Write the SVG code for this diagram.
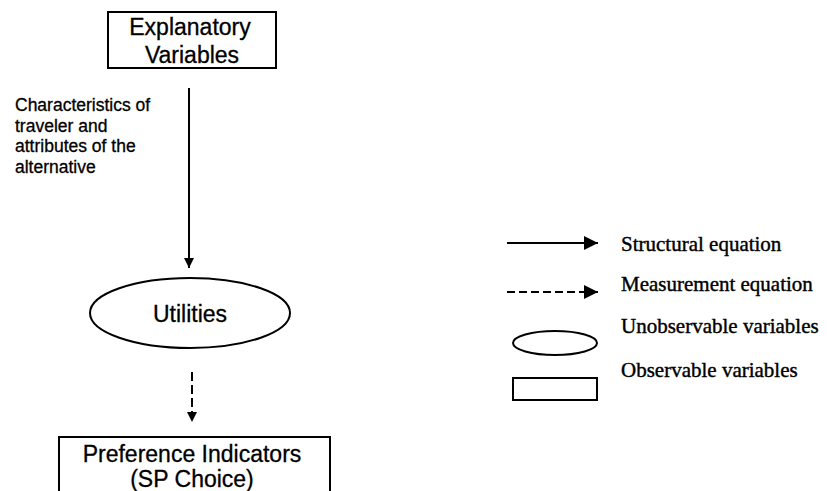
<svg xmlns="http://www.w3.org/2000/svg" width="827" height="491" viewBox="0 0 827 491">
  <style>
    .node { fill: #fff; stroke: #000; stroke-width: 2; }
    .sans { font-family: "Liberation Sans", Arial, Helvetica, sans-serif; fill: #000; stroke: #000; stroke-width: 0.3; }
    .lbl { font-size: 23px; text-anchor: middle; }
    .note { font-size: 17.5px; }
    .serif { font-family: "Liberation Serif", "Times New Roman", serif; font-size: 21px; fill: #000; stroke: #000; stroke-width: 0.4; }
    .edge { stroke: #000; stroke-width: 2; fill: none; }
    .dash { stroke-dasharray: 9 4; }
    .ldash { stroke-dasharray: 8 4; }
  </style>
  <defs>
    <marker id="head" viewBox="0 0 10 10" refX="10" refY="5" markerWidth="5.5" markerHeight="5" markerUnits="strokeWidth" orient="auto">
      <path d="M0,0 L10,5 L0,10 Z" fill="#000"/>
    </marker>
    <marker id="headL" viewBox="0 0 10 10" refX="10" refY="5" markerWidth="7.5" markerHeight="7" markerUnits="strokeWidth" orient="auto">
      <path d="M0,0 L10,5 L0,10 Z" fill="#000"/>
    </marker>
  </defs>
  <rect width="827" height="491" fill="#fff"/>

  <!-- explanatory variables (observed) -->
  <g id="explanatory">
    <rect class="node" x="108" y="12" width="168" height="56"/>
    <text class="sans lbl" x="190" y="35">Explanatory</text>
    <text class="sans lbl" x="192" y="63">Variables</text>
  </g>

  <!-- latent utilities -->
  <g id="utilities">
    <ellipse class="node" cx="190" cy="313" rx="100" ry="35"/>
    <text class="sans lbl" x="190" y="322">Utilities</text>
  </g>

  <!-- stated preference indicators -->
  <g id="indicators">
    <rect class="node" x="59" y="437" width="271" height="70"/>
    <text class="sans lbl" x="192" y="462">Preference Indicators</text>
    <text class="sans lbl" x="192" y="487">(SP Choice)</text>
  </g>

  <!-- connectors -->
  <g id="connectors">
    <line class="edge" x1="189" y1="88" x2="189" y2="268" marker-end="url(#head)"/>
    <line class="edge dash" x1="192" y1="372" x2="192" y2="422" marker-end="url(#head)"/>
  </g>

  <g id="edge-label">
    <text class="sans note" x="15" y="111">Characteristics of</text>
    <text class="sans note" x="15" y="132">traveler and</text>
    <text class="sans note" x="15" y="152">attributes of the</text>
    <text class="sans note" x="15" y="173">alternative</text>
  </g>

  <!-- legend -->
  <g id="legend">
    <line class="edge" x1="507" y1="243" x2="598" y2="243" marker-end="url(#headL)"/>
    <text class="serif" x="621" y="251">Structural equation</text>
    <line class="edge ldash" x1="507" y1="292" x2="598" y2="292" marker-end="url(#headL)"/>
    <text class="serif" x="621" y="291">Measurement equation</text>
    <text class="serif" x="621" y="333">Unobservable variables</text>
    <ellipse class="node" cx="555" cy="343" rx="42" ry="12"/>
    <text class="serif" x="621" y="377">Observable variables</text>
    <rect class="node" x="513" y="378" width="84" height="22"/>
  </g>
</svg>
